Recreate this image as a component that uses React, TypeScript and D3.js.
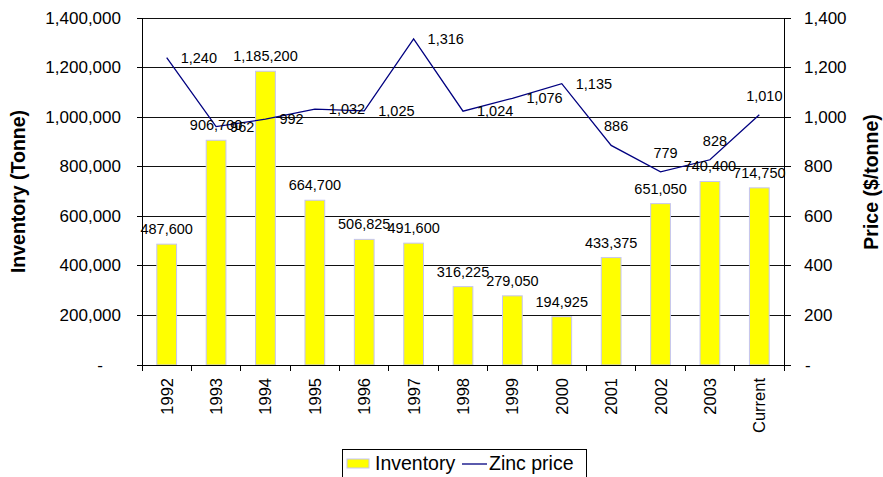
import React from "react";
import * as d3 from "d3";

const categories = ["1992","1993","1994","1995","1996","1997","1998","1999","2000","2001","2002","2003","Current"];
const inventory = [487600, 906700, 1185200, 664700, 506825, 491600, 316225, 279050, 194925, 433375, 651050, 740400, 714750];
const zincPrice = [1240, 962, 992, 1032, 1025, 1316, 1024, 1076, 1135, 886, 779, 828, 1010];
const leftTicks = [0, 200000, 400000, 600000, 800000, 1000000, 1200000, 1400000];
const rightTicks = [0, 200, 400, 600, 800, 1000, 1200, 1400];
// price label placement (style, not data)
const priceLabelPlacement = ["right","right","right","right","right","right","right","right","right","above","above","above","above"];

const W = 883, H = 477;
const L = 142, R = 784, T = 18, B = 365;
const FONT = "'Liberation Sans', Arial, sans-serif";

export default function App() {
  const x = d3.scaleBand<string>().domain(categories).range([L, R]).paddingInner(0).paddingOuter(0);
  const yL = d3.scaleLinear().domain([0, 1400000]).range([B, T]);
  const yR = d3.scaleLinear().domain([0, 1400]).range([B, T]);
  const fmt = d3.format(",");
  const bw = x.bandwidth();
  const barW = bw / 2.5;
  const cx = (c: string) => (x(c) as number) + bw / 2;
  const line = d3.line<number>().x((_, i) => cx(categories[i])).y((d) => yR(d));
  const bounds = categories.map((c) => x(c) as number).concat([R]);

  return (
    <svg width={W} height={H} style={{ position: "absolute", left: 0, top: 0, background: "#fff" }} fontFamily={FONT}>
      {leftTicks.filter((t) => t > 0).map((t) => (
        <line key={"g" + t} x1={L} x2={R} y1={yL(t)} y2={yL(t)} stroke="#111" strokeWidth={1} shapeRendering="crispEdges" />
      ))}
      {inventory.map((v, i) => (
        <rect key={"b" + i} x={cx(categories[i]) - barW / 2} y={yL(v)} width={barW} height={B - yL(v)}
          fill="#FFFF00" stroke="#C4C4F4" strokeWidth={1} />
      ))}
      <line x1={L} x2={L} y1={T} y2={B} stroke="#000" strokeWidth={1} shapeRendering="crispEdges" />
      <line x1={R} x2={R} y1={T} y2={B} stroke="#000" strokeWidth={1} shapeRendering="crispEdges" />
      <line x1={L} x2={R} y1={B} y2={B} stroke="#000" strokeWidth={1} shapeRendering="crispEdges" />
      {leftTicks.map((t) => (
        <g key={"lt" + t}>
          <line x1={L - 5} x2={L} y1={yL(t)} y2={yL(t)} stroke="#000" shapeRendering="crispEdges" />
          <text x={t === 0 ? 103 : 121} y={yL(t)} textAnchor="end" dominantBaseline="central" fontSize={17} fill="#000">
            {t === 0 ? "-" : fmt(t)}
          </text>
        </g>
      ))}
      {rightTicks.map((t) => (
        <g key={"rt" + t}>
          <line x1={R} x2={R + 7} y1={yR(t)} y2={yR(t)} stroke="#000" shapeRendering="crispEdges" />
          <text x={t === 0 ? 805 : 804} y={yR(t)} textAnchor="start" dominantBaseline="central" fontSize={17} fill="#000">
            {t === 0 ? "-" : fmt(t)}
          </text>
        </g>
      ))}
      {bounds.map((b, i) => (
        <line key={"xt" + i} x1={b} x2={b} y1={B} y2={B + 6} stroke="#000" shapeRendering="crispEdges" />
      ))}
      {categories.map((c) => (
        <text key={"xl" + c} transform={`translate(${cx(c)},378) rotate(-90)`} textAnchor="end" dominantBaseline="central"
          fontSize={16.5} fill="#000">{c}</text>
      ))}
      <path d={line(zincPrice) || ""} fill="none" stroke="#000080" strokeWidth={1.3} />
      {inventory.map((v, i) => (
        <text key={"bl" + i} x={cx(categories[i])} y={yL(v) - 10} textAnchor="middle" fontSize={14.5} fill="#000">{fmt(v)}</text>
      ))}
      {zincPrice.map((v, i) => {
        const above = priceLabelPlacement[i] === "above";
        return (
          <text key={"pl" + i} x={cx(categories[i]) + (above ? 5 : 14)} y={yR(v) + (above ? -19 : 0)}
            textAnchor={above ? "middle" : "start"} dominantBaseline="central" fontSize={14.5} fill="#000">{fmt(v)}</text>
        );
      })}
      <text transform={`translate(18,${(T + B) / 2}) rotate(-90)`} textAnchor="middle" dominantBaseline="central"
        fontSize={19.5} fontWeight="bold" fill="#000">Inventory (Tonne)</text>
      <text transform={`translate(871,182) rotate(-90)`} textAnchor="middle" dominantBaseline="central"
        fontSize={19.5} fontWeight="bold" fill="#000">Price ($/tonne)</text>
      <rect x={342} y={449} width={244} height={35} fill="#fff" stroke="#000" strokeWidth={1} shapeRendering="crispEdges" />
      <rect x={347} y={459} width={22} height={9} fill="#FFFF00" stroke="#C4C4F4" strokeWidth={1} />
      <text x={375} y={470} fontSize={19.5} fill="#000">Inventory</text>
      <line x1={462} x2={487} y1={464} y2={464} stroke="#000080" strokeWidth={1.3} />
      <text x={489} y={470} fontSize={19.5} fill="#000">Zinc price</text>
    </svg>
  );
}
